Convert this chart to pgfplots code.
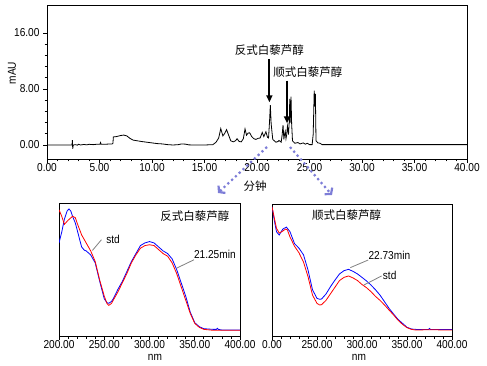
\documentclass[border=0pt]{standalone}
\usepackage{pgfplots}
\pgfplotsset{compat=1.18}
\usepackage{fontspec}
\setmainfont{Liberation Sans}[FakeStretch=0.88]
\newfontfamily\cjk{Noto Sans CJK SC}
\usetikzlibrary{arrows.meta}
\newcommand\lbl{\fontsize{11.5}{13}\selectfont}
\newcommand\cj{\cjk\fontsize{11.5}{13}\selectfont}
\definecolor{lav}{RGB}{125,125,215}
\definecolor{sred}{RGB}{255,0,0}
\definecolor{sblue}{RGB}{0,0,255}
\pgfplotsset{myax/.style={scale only axis, anchor=south west,
  tick align=outside, tick pos=left,
  major tick length=4pt, minor tick length=2.5pt,
  every tick/.style={black, line width=0.8pt},
  axis line style={line width=0.8pt},
  tick label style={font=\lbl},
  xticklabel style={inner sep=0.5pt},
  /pgf/number format/fixed, /pgf/number format/fixed zerofill,
  /pgf/number format/precision=2, /pgf/number format/assume math mode=true}}
\begin{document}
\begin{tikzpicture}
\useasboundingbox (0pt,0pt) rectangle (487pt,-366pt);
% chromatogram
\begin{axis}[myax, at={(47pt,-159pt)}, width=420pt, height=154pt,
  xmin=0, xmax=40, ymin=-2, ymax=20,
  xtick={0,5,...,40}, ytick={0,8,16}, minor x tick num=4, minor y tick num=4]
\addplot[black, line width=0.8pt] coordinates {
(0,0)(2.38,0)(2.42,0.7)(2.45,-0.55)(2.5,0)(2.7,0.05)(2.9,-0.02)(3.0,0.1)(3.2,0.0)(3.5,0.08)(3.8,0.02)(4.0,0.1)(4.4,0.05)(4.8,0.12)(5.05,0.12)(5.1,0.35)(5.15,0.12)(5.5,0.1)(6.0,0.15)(6.2,0.15)(6.28,0.25)(6.32,1.15)(6.6,1.2)(7.0,1.35)(7.3,1.42)(7.6,1.3)(7.9,0.95)(8.2,0.7)(8.6,0.6)(9.0,0.5)(9.5,0.4)(10.0,0.3)(10.5,0.2)(11.0,0.15)(11.5,0.05)(12.0,0.0)(12.5,0.05)(12.8,0.15)(13.2,0.12)(13.5,0.02)(14.0,0.0)(15.0,0.0)(15.8,0.05)(16.1,0.4)(16.35,1.0)(16.55,2.35)(16.75,1.3)(16.9,1.6)(17.1,2.2)(17.3,1.4)(17.5,0.6)(17.75,0.45)(17.95,0.6)(18.1,0.9)(18.3,0.5)(18.5,0.45)(18.7,0.9)(18.86,2.3)(19.0,1.4)(19.15,1.7)(19.3,1.75)(19.5,1.2)(19.7,0.9)(19.9,0.8)(20.1,0.95)(20.3,1.0)(20.5,1.8)(20.65,1.2)(20.85,1.9)(21.0,1.1)(21.1,1.0)(21.2,3.5)(21.27,5.7)(21.35,3.0)(21.5,0.8)(21.8,0.4)(22.0,0.5)(22.1,0.65)(22.3,0.4)(22.4,1.5)(22.48,2.85)(22.56,0.8)(22.62,1.5)(22.69,1.95)(22.76,0.9)(22.82,1.4)(22.9,2.7)(23.0,1.5)(23.08,3.6)(23.12,6.6)(23.16,3.2)(23.2,5.0)(23.24,6.9)(23.3,3.0)(23.38,0.6)(23.6,0.25)(23.9,0.35)(24.1,0.15)(24.4,0.3)(24.6,0.12)(24.8,0.25)(25.0,0.05)(25.25,0.05)(25.35,1.5)(25.45,7.75)(25.52,5.5)(25.56,7.3)(25.62,0.6)(25.8,0.3)(26.0,0.25)(26.2,0.05)(26.5,0.05)(40,0.05)};
\draw[-{Triangle[length=7pt,width=6pt]}, line width=1.8pt] (axis cs:21.18,12.3) -- (axis cs:21.18,6.1);
\draw[-{Triangle[length=7pt,width=6pt]}, line width=1.8pt] (axis cs:22.86,9.2) -- (axis cs:22.86,3.1);
\node[font=\cj] at (axis cs:21.18,13.6) {反式白藜芦醇};
\node[font=\cj, anchor=west, inner sep=0pt] at (axis cs:21.55,10.4) {顺式白藜芦醇};
\end{axis}
% left spectrum
\begin{axis}[myax, at={(59pt,-336pt)}, width=181pt, height=133pt,
  xmin=200, xmax=400, ymin=0, ymax=1, xtick={200,250,...,400}, minor x tick num=4, ytick=\empty]
\addplot[sblue, line width=0.8pt] coordinates {
(200,0.70)(203,0.78)(206,0.88)(209,0.94)(211,0.955)(213,0.94)(215,0.90)(218,0.85)(220,0.80)(223,0.72)(225,0.67)(228,0.645)(230,0.64)(235,0.61)(240,0.55)(245,0.41)(250,0.28)(253,0.25)(255,0.246)(258,0.26)(260,0.28)(265,0.35)(270,0.41)(275,0.485)(280,0.56)(285,0.62)(290,0.68)(295,0.70)(300,0.71)(305,0.70)(310,0.67)(315,0.64)(320,0.62)(325,0.58)(330,0.50)(335,0.40)(340,0.30)(345,0.18)(350,0.10)(355,0.07)(360,0.055)(370,0.05)(374,0.05)(375,0.058)(376,0.05)(380,0.045)(400,0.045)};
\addplot[sred, line width=0.8pt] coordinates {
(200,0.95)(203,0.90)(206,0.84)(210,0.87)(215,0.90)(218,0.89)(220,0.85)(225,0.76)(230,0.70)(235,0.64)(240,0.56)(245,0.42)(250,0.30)(253,0.245)(255,0.23)(258,0.245)(260,0.27)(265,0.33)(270,0.40)(275,0.47)(280,0.55)(285,0.61)(290,0.66)(295,0.68)(300,0.686)(305,0.68)(310,0.65)(315,0.62)(320,0.60)(325,0.55)(330,0.47)(335,0.37)(340,0.27)(345,0.17)(350,0.095)(355,0.065)(360,0.05)(370,0.043)(380,0.043)(400,0.043)};
\draw[gray, line width=0.8pt] (axis cs:236.9,0.643) -- (axis cs:246.9,0.724);
\node[font=\lbl, anchor=west, inner sep=0pt] at (axis cs:252,0.73) {std};
\draw[gray, line width=0.8pt] (axis cs:329.9,0.51) -- (axis cs:349.1,0.573);
\node[font=\lbl, anchor=west, inner sep=0pt] at (axis cs:349,0.61) {21.25min};
\node[font=\cj] at (axis cs:350,0.905) {反式白藜芦醇};
\end{axis}
% right spectrum
\begin{axis}[myax, at={(272pt,-336pt)}, width=180pt, height=132pt,
  xmin=200, xmax=400, ymin=0, ymax=1, xtick={200,250,...,400},
  xticklabels={0.00,250.00,300.00,350.00,400.00}, minor x tick num=4, ytick=\empty]
\addplot[sblue, line width=0.8pt] coordinates {
(200,0.98)(203,0.86)(205,0.79)(208,0.765)(212,0.81)(216,0.825)(220,0.79)(225,0.70)(230,0.665)(235,0.615)(240,0.50)(245,0.35)(250,0.285)(253,0.278)(255,0.28)(260,0.318)(265,0.374)(270,0.424)(275,0.47)(280,0.495)(285,0.505)(290,0.49)(295,0.47)(300,0.444)(305,0.417)(310,0.386)(315,0.35)(320,0.31)(325,0.26)(330,0.21)(335,0.167)(340,0.126)(345,0.096)(350,0.066)(355,0.053)(360,0.05)(374,0.05)(375,0.057)(376,0.05)(400,0.05)};
\addplot[sred, line width=0.8pt] coordinates {
(200,0.98)(203,0.88)(205,0.816)(208,0.78)(212,0.795)(215,0.81)(217,0.805)(220,0.75)(225,0.68)(230,0.63)(235,0.56)(240,0.45)(245,0.31)(250,0.247)(253,0.235)(255,0.237)(260,0.27)(265,0.32)(270,0.37)(275,0.42)(280,0.444)(285,0.455)(290,0.44)(295,0.42)(300,0.39)(305,0.366)(310,0.336)(315,0.30)(320,0.27)(325,0.235)(330,0.197)(335,0.16)(340,0.12)(345,0.088)(350,0.063)(355,0.05)(360,0.045)(370,0.047)(380,0.048)(390,0.045)(400,0.045)};
\draw[gray, line width=0.8pt] (axis cs:287,0.518) -- (axis cs:307,0.576);
\node[font=\lbl, anchor=west, inner sep=0pt] at (axis cs:307,0.614) {22.73min};
\draw[gray, line width=0.8pt] (axis cs:302,0.386) -- (axis cs:321.8,0.455);
\node[font=\lbl, anchor=west, inner sep=0pt] at (axis cs:323,0.462) {std};
\node[font=\cj] at (axis cs:283,0.917) {顺式白藜芦醇};
\end{axis}
% labels
\node[font=\lbl, rotate=90] at (12pt,-73pt) {mAU};
\node[font=\cj] at (255pt,-186pt) {分钟};
\node[font=\lbl] at (155pt,-357.5pt) {nm};
\node[font=\lbl] at (359pt,-357.5pt) {nm};
% dotted arrows
\draw[lav, line width=2.2pt, dash pattern=on 2.2pt off 3pt, -{Straight Barb[length=4pt,width=10pt,line width=2.2pt]}] (267pt,-147pt) -- (218pt,-193pt);
\draw[lav, line width=2.2pt, dash pattern=on 2.2pt off 3pt, -{Straight Barb[length=4pt,width=10pt,line width=2.2pt]}] (290pt,-147pt) -- (332pt,-195pt);
\end{tikzpicture}
\end{document}
